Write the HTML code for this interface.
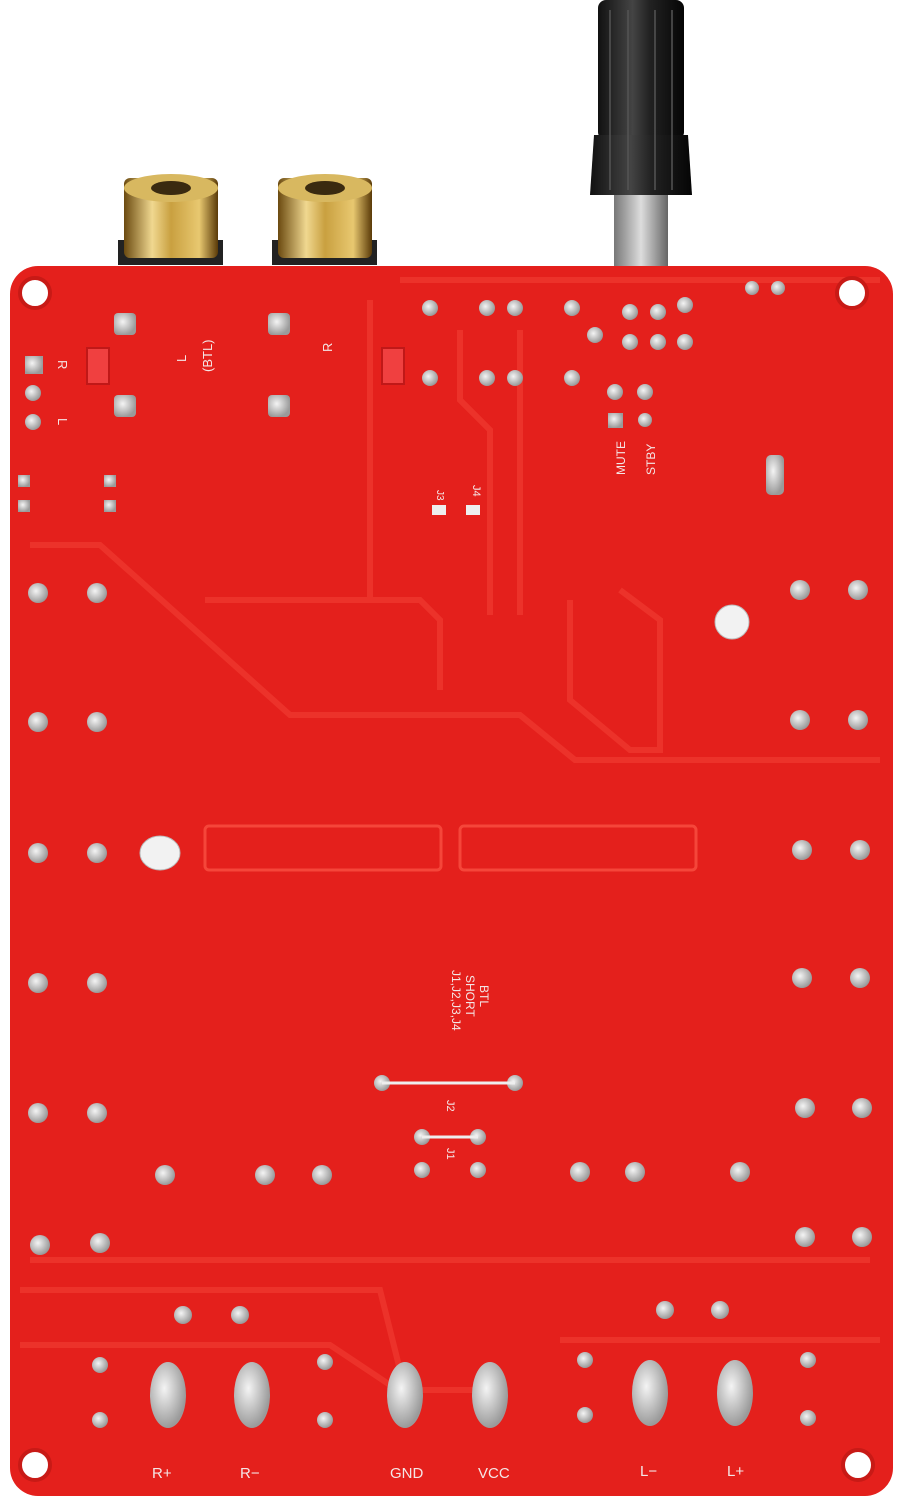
<!DOCTYPE html>
<html><head><style>
body{margin:0;background:#fff;}
svg{display:block}
text{font-family:"Liberation Sans",sans-serif;fill:#f4e6e6;}
</style></head><body>
<svg width="903" height="1500" viewBox="0 0 903 1500" xmlns="http://www.w3.org/2000/svg">
<defs>
<radialGradient id="pad" cx="40%" cy="40%" r="60%"><stop offset="0" stop-color="#f4f4f4"/><stop offset="1" stop-color="#9a9a9a"/></radialGradient>
<linearGradient id="gold" x1="0" x2="1"><stop offset="0" stop-color="#6b4a10"/><stop offset="0.3" stop-color="#f0d890"/><stop offset="0.5" stop-color="#c9a040"/><stop offset="0.8" stop-color="#e8c870"/><stop offset="1" stop-color="#5a3a08"/></linearGradient>
<linearGradient id="knob" x1="0" x2="1"><stop offset="0" stop-color="#111"/><stop offset="0.4" stop-color="#444"/><stop offset="0.6" stop-color="#222"/><stop offset="1" stop-color="#050505"/></linearGradient>
<linearGradient id="shaft" x1="0" x2="1"><stop offset="0" stop-color="#777"/><stop offset="0.5" stop-color="#ddd"/><stop offset="1" stop-color="#666"/></linearGradient>
</defs>
<!-- RCA jacks -->
<rect x="118" y="240" width="105" height="25" fill="#222"/>
<rect x="272" y="240" width="105" height="25" fill="#222"/>
<rect x="124" y="178" width="94" height="80" rx="6" fill="url(#gold)"/>
<ellipse cx="171" cy="188" rx="47" ry="14" fill="#d8b860"/>
<ellipse cx="171" cy="188" rx="20" ry="7" fill="#3a2a10"/>
<rect x="278" y="178" width="94" height="80" rx="6" fill="url(#gold)"/>
<ellipse cx="325" cy="188" rx="47" ry="14" fill="#d8b860"/>
<ellipse cx="325" cy="188" rx="20" ry="7" fill="#3a2a10"/>
<!-- knob -->
<rect x="614" y="190" width="54" height="80" fill="url(#shaft)"/>
<rect x="598" y="0" width="86" height="140" rx="8" fill="url(#knob)"/>
<path d="M594 135 L688 135 L692 195 L590 195 Z" fill="url(#knob)"/>
<g stroke="#555" stroke-width="1.5"><line x1="610" y1="10" x2="610" y2="190"/><line x1="628" y1="10" x2="628" y2="190"/><line x1="655" y1="10" x2="655" y2="190"/><line x1="672" y1="10" x2="672" y2="190"/></g>
<!-- board -->
<rect x="10" y="266" width="883" height="1230" rx="28" fill="#e4201c"/>
<!-- traces -->
<g fill="none" stroke="#f03a30" stroke-width="6" opacity="0.7">
<path d="M30 545 L100 545 L290 715 L520 715 L575 760 L880 760"/>
<path d="M205 600 L420 600 L440 620 L440 690"/>
<path d="M370 300 L370 600"/>
<path d="M400 280 L880 280"/>
<path d="M460 330 L460 400 L490 430 L490 615"/>
<path d="M520 330 L520 615"/>
<path d="M570 600 L570 700 L630 750 L660 750 L660 620 L620 590"/>
<path d="M20 1290 L380 1290 L400 1370"/>
<path d="M560 1340 L880 1340"/>
<path d="M20 1345 L330 1345 L390 1385"/>
<path d="M30 1260 L870 1260"/>
<path d="M420 1390 L490 1390"/>
</g>
<!-- slots -->
<rect x="205" y="826" width="236" height="44" rx="4" fill="none" stroke="#f5463a" stroke-width="3"/>
<rect x="460" y="826" width="236" height="44" rx="4" fill="none" stroke="#f5463a" stroke-width="3"/>
<!-- mounting holes -->
<g fill="#fff" stroke="#c81a16" stroke-width="4">
<circle cx="35" cy="293" r="15"/><circle cx="852" cy="293" r="15"/>
<circle cx="35" cy="1465" r="15"/><circle cx="858" cy="1465" r="15"/>
</g>
<!-- small pads -->
<g fill="url(#pad)">
<circle cx="38" cy="593" r="10"/><circle cx="97" cy="593" r="10"/>
<circle cx="38" cy="722" r="10"/><circle cx="97" cy="722" r="10"/>
<circle cx="38" cy="853" r="10"/><circle cx="97" cy="853" r="10"/>
<circle cx="38" cy="983" r="10"/><circle cx="97" cy="983" r="10"/>
<circle cx="38" cy="1113" r="10"/><circle cx="97" cy="1113" r="10"/>
<circle cx="40" cy="1245" r="10"/><circle cx="100" cy="1243" r="10"/>
<circle cx="800" cy="590" r="10"/><circle cx="858" cy="590" r="10"/>
<circle cx="800" cy="720" r="10"/><circle cx="858" cy="720" r="10"/>
<circle cx="802" cy="850" r="10"/><circle cx="860" cy="850" r="10"/>
<circle cx="802" cy="978" r="10"/><circle cx="860" cy="978" r="10"/>
<circle cx="805" cy="1108" r="10"/><circle cx="862" cy="1108" r="10"/>
<circle cx="805" cy="1237" r="10"/><circle cx="862" cy="1237" r="10"/>
<circle cx="165" cy="1175" r="10"/><circle cx="265" cy="1175" r="10"/><circle cx="322" cy="1175" r="10"/>
<circle cx="580" cy="1172" r="10"/><circle cx="635" cy="1172" r="10"/><circle cx="740" cy="1172" r="10"/>
<circle cx="183" cy="1315" r="9"/><circle cx="240" cy="1315" r="9"/>
<circle cx="665" cy="1310" r="9"/><circle cx="720" cy="1310" r="9"/>
<circle cx="100" cy="1365" r="8"/><circle cx="100" cy="1420" r="8"/>
<circle cx="325" cy="1362" r="8"/><circle cx="325" cy="1420" r="8"/>
<circle cx="585" cy="1360" r="8"/><circle cx="585" cy="1415" r="8"/>
<circle cx="808" cy="1360" r="8"/><circle cx="808" cy="1418" r="8"/>
<circle cx="382" cy="1083" r="8"/><circle cx="515" cy="1083" r="8"/>
<circle cx="422" cy="1137" r="8"/><circle cx="478" cy="1137" r="8"/>
<circle cx="422" cy="1170" r="8"/><circle cx="478" cy="1170" r="8"/>
<circle cx="430" cy="308" r="8"/><circle cx="487" cy="308" r="8"/><circle cx="515" cy="308" r="8"/>
<circle cx="572" cy="308" r="8"/><circle cx="595" cy="335" r="8"/>
<circle cx="430" cy="378" r="8"/><circle cx="487" cy="378" r="8"/><circle cx="515" cy="378" r="8"/><circle cx="572" cy="378" r="8"/>
<circle cx="630" cy="312" r="8"/><circle cx="658" cy="312" r="8"/><circle cx="685" cy="305" r="8"/>
<circle cx="630" cy="342" r="8"/><circle cx="658" cy="342" r="8"/><circle cx="685" cy="342" r="8"/>
<circle cx="615" cy="392" r="8"/><circle cx="645" cy="392" r="8"/>
<circle cx="645" cy="420" r="7"/>
<circle cx="33" cy="393" r="8"/><circle cx="33" cy="422" r="8"/>
<circle cx="752" cy="288" r="7"/><circle cx="778" cy="288" r="7"/>
<rect x="114" y="313" width="22" height="22" rx="4"/><rect x="268" y="313" width="22" height="22" rx="4"/>
<rect x="114" y="395" width="22" height="22" rx="4"/><rect x="268" y="395" width="22" height="22" rx="4"/>
<rect x="25" y="356" width="18" height="18"/><rect x="608" y="413" width="15" height="15"/>
<rect x="18" y="475" width="12" height="12"/><rect x="18" y="500" width="12" height="12"/>
<rect x="104" y="475" width="12" height="12"/><rect x="104" y="500" width="12" height="12"/>
<rect x="766" y="455" width="18" height="40" rx="5"/>
</g>
<rect x="87" y="348" width="22" height="36" fill="#f04040" stroke="#c01818" stroke-width="2"/>
<rect x="382" y="348" width="22" height="36" fill="#f04040" stroke="#c01818" stroke-width="2"/>
<line x1="382" y1="1083" x2="515" y2="1083" stroke="#eee" stroke-width="3"/>
<line x1="422" y1="1137" x2="478" y2="1137" stroke="#eee" stroke-width="3"/>
<rect x="432" y="505" width="14" height="10" fill="#eee"/><rect x="466" y="505" width="14" height="10" fill="#eee"/>
<!-- standoffs -->
<ellipse cx="160" cy="853" rx="20" ry="17" fill="#f2f2f2" stroke="#bbb"/>
<ellipse cx="732" cy="622" rx="17" ry="17" fill="#f2f2f2" stroke="#bbb"/>
<!-- terminals -->
<g fill="url(#pad)">
<ellipse cx="168" cy="1395" rx="18" ry="33"/><ellipse cx="252" cy="1395" rx="18" ry="33"/>
<ellipse cx="405" cy="1395" rx="18" ry="33"/><ellipse cx="490" cy="1395" rx="18" ry="33"/>
<ellipse cx="650" cy="1393" rx="18" ry="33"/><ellipse cx="735" cy="1393" rx="18" ry="33"/>
</g>
<!-- labels -->
<g font-size="15">
<text x="152" y="1478">R+</text><text x="240" y="1478">R−</text>
<text x="390" y="1478">GND</text><text x="478" y="1478">VCC</text>
<text x="640" y="1476">L−</text><text x="727" y="1476">L+</text>
</g>
<g font-size="13">
<text transform="translate(186,362) rotate(-90)">L</text>
<text transform="translate(212,372) rotate(-90)">(BTL)</text>
<text transform="translate(332,352) rotate(-90)">R</text>
<text transform="translate(58,360) rotate(90)">R</text>
<text transform="translate(58,418) rotate(90)">L</text>
<text transform="translate(625,475) rotate(-90)" font-size="12">MUTE</text>
<text transform="translate(655,475) rotate(-90)" font-size="12">STBY</text>
<text transform="translate(437,490) rotate(90)" font-size="10">J3</text>
<text transform="translate(473,485) rotate(90)" font-size="11">J4</text>
<text transform="translate(452,970) rotate(90)" font-size="12">J1,J2,J3,J4</text>
<text transform="translate(466,975) rotate(90)" font-size="12">SHORT</text>
<text transform="translate(480,985) rotate(90)" font-size="12">BTL</text>
<text transform="translate(447,1100) rotate(90)" font-size="11">J2</text>
<text transform="translate(447,1148) rotate(90)" font-size="11">J1</text>
</g>
</svg>
</body></html>
